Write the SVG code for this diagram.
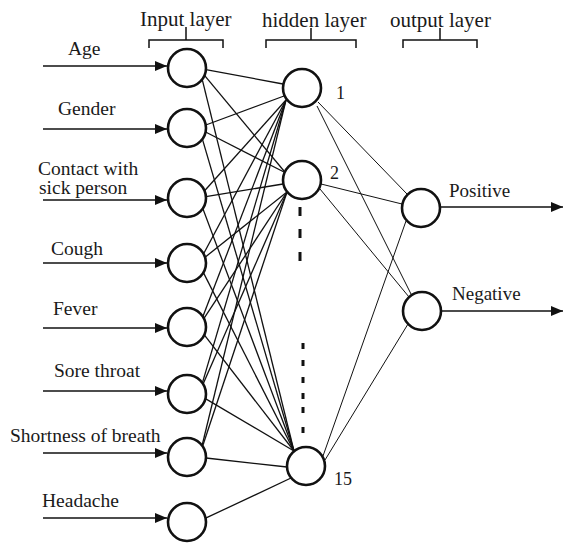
<svg xmlns="http://www.w3.org/2000/svg" width="564" height="544" viewBox="0 0 564 544">
  <style>
    text { font-family: "Liberation Serif", "Times New Roman", serif; fill: #1a1a1a; }
    .hdr { font-size: 21px; }
    .lbl { font-size: 19.5px; }
    .out { font-size: 19px; }
    .num { font-size: 18px; }
    .node { fill: #fff; stroke: #111; stroke-width: 2.6; }
    .w { stroke: #111; stroke-width: 1.3; fill: none; }
    .w2 { stroke: #111; stroke-width: 1; fill: none; }
    .arr { stroke: #111; stroke-width: 1.5; fill: none; marker-end: url(#tip); }
    .br { stroke: #111; stroke-width: 1.5; fill: none; }
    .dash { stroke: #111; stroke-width: 3; fill: none; }
  </style>
  <defs>
    <marker id="tip" markerUnits="userSpaceOnUse" markerWidth="13" markerHeight="11" refX="12" refY="5" orient="auto">
      <path d="M0,0 L12,5 L0,10 Z" fill="#111"/>
    </marker>
  </defs>

  <rect width="564" height="544" fill="#fff"/>

  <!-- layer headings with brackets -->
  <g id="headings">
    <text class="hdr" x="140" y="26">Input layer</text>
    <text class="hdr" x="262" y="27">hidden layer</text>
    <text class="hdr" x="390" y="27">output layer</text>
    <path class="br" d="M149,48 V40 H223 V48 M186,40 V27"/>
    <path class="br" d="M266,48 V40 H356 V48 M311,40 V28"/>
    <path class="br" d="M403,48 V40 H477 V48 M440,40 V28"/>
  </g>

  <!-- weights and input/output arrows -->
  <g id="connectors">
    <!-- inputs to hidden 1 -->
    <line class="w" x1="205.9" y1="69.6" x2="283" y2="84"/>
    <line class="w" x1="205.8" y1="125" x2="284" y2="96"/>
    <line class="w" x1="204.6" y1="190.8" x2="286" y2="100"/>
    <line class="w" x1="203.6" y1="253.7" x2="286" y2="100"/>
    <line class="w" x1="202.9" y1="316.6" x2="286" y2="100"/>
    <line class="w" x1="202.4" y1="382.9" x2="286" y2="100"/>
    <line class="w" x1="202.1" y1="445.5" x2="286" y2="100"/>
    <!-- inputs to hidden 2 -->
    <line class="w" x1="204.5" y1="75.4" x2="284" y2="171"/>
    <line class="w" x1="205.6" y1="132" x2="284" y2="172"/>
    <line class="w" x1="205.9" y1="196.6" x2="283" y2="184"/>
    <line class="w" x1="205.1" y1="257.2" x2="287" y2="192"/>
    <line class="w" x1="204" y1="318.4" x2="287" y2="192"/>
    <line class="w" x1="203.1" y1="384" x2="287" y2="192"/>
    <line class="w" x1="202.6" y1="446.2" x2="287" y2="192"/>
    <!-- inputs to hidden 15 -->
    <line class="w" x1="202.2" y1="79.4" x2="294" y2="451"/>
    <line class="w" x1="202.4" y1="139.1" x2="294" y2="451"/>
    <line class="w" x1="202.8" y1="208.5" x2="294" y2="451"/>
    <line class="w" x1="203.4" y1="272.6" x2="294" y2="451"/>
    <line class="w" x1="204.3" y1="334.9" x2="294" y2="451"/>
    <line class="w" x1="205.4" y1="398.6" x2="294" y2="451"/>
    <line class="w" x1="206" y1="458" x2="287" y2="467"/>
    <line class="w" x1="205.6" y1="518.2" x2="291" y2="478"/>
    <!-- hidden to outputs -->
    <line class="w2" x1="318" y1="102" x2="407" y2="194"/>
    <line class="w2" x1="317" y1="106" x2="411" y2="294"/>
    <line class="w2" x1="321" y1="184" x2="402" y2="204"/>
    <line class="w2" x1="320" y1="189" x2="409" y2="297"/>
    <line class="w2" x1="323" y1="456" x2="406" y2="221"/>
    <line class="w2" x1="325" y1="460" x2="408" y2="324"/>
    <!-- input arrows -->
    <line class="arr" x1="43" y1="66" x2="167" y2="66"/>
    <line class="arr" x1="43" y1="129" x2="167" y2="129"/>
    <line class="arr" x1="43" y1="200" x2="167" y2="200"/>
    <line class="arr" x1="43" y1="263" x2="167" y2="263"/>
    <line class="arr" x1="43" y1="328" x2="167" y2="328"/>
    <line class="arr" x1="43" y1="391" x2="167" y2="391"/>
    <line class="arr" x1="43" y1="453" x2="167" y2="453"/>
    <line class="arr" x1="43" y1="518" x2="167" y2="518"/>
    <!-- output arrows -->
    <line class="arr" x1="441" y1="207" x2="563" y2="207"/>
    <line class="arr" x1="442" y1="311" x2="563" y2="311"/>
  </g>

  <!-- ellipsis marks between hidden units -->
  <g id="ellipsis">
    <path class="dash" d="M300,207 V216 M300,229 V238 M300,252 V261"/>
    <path class="dash" d="M303,343 V349 M303,360 V366 M303,377 V383 M303,393 V399 M303,407 V413 M303,427 V433"/>
  </g>

  <!-- input layer -->
  <g id="in-age"><circle class="node" cx="187" cy="68" r="19"/><text class="lbl" x="68" y="55">Age</text></g>
  <g id="in-gender"><circle class="node" cx="187" cy="128" r="19"/><text class="lbl" x="58" y="115">Gender</text></g>
  <g id="in-contact"><circle class="node" cx="187" cy="198" r="19"/><text class="lbl" x="38" y="175">Contact with</text><text class="lbl" x="39" y="194">sick person</text></g>
  <g id="in-cough"><circle class="node" cx="187" cy="263" r="19"/><text class="lbl" x="51" y="255">Cough</text></g>
  <g id="in-fever"><circle class="node" cx="187" cy="327" r="19"/><text class="lbl" x="53" y="315">Fever</text></g>
  <g id="in-sore-throat"><circle class="node" cx="187" cy="394" r="19"/><text class="lbl" x="54" y="377">Sore throat</text></g>
  <g id="in-shortness"><circle class="node" cx="187" cy="457" r="19"/><text class="lbl" x="10" y="442">Shortness of breath</text></g>
  <g id="in-headache"><circle class="node" cx="187" cy="522" r="19"/><text class="lbl" x="42" y="507">Headache</text></g>

  <!-- hidden layer -->
  <g id="hid-1"><circle class="node" cx="302" cy="88" r="19"/><text class="num" x="336" y="99">1</text></g>
  <g id="hid-2"><circle class="node" cx="302" cy="180" r="19"/><text class="num" x="330" y="179">2</text></g>
  <g id="hid-15"><circle class="node" cx="306" cy="466" r="19"/><text class="num" x="334" y="485">15</text></g>

  <!-- output layer -->
  <g id="out-positive"><circle class="node" cx="421" cy="208" r="19"/><text class="out" x="449" y="197">Positive</text></g>
  <g id="out-negative"><circle class="node" cx="422" cy="311" r="19"/><text class="out" x="452" y="300">Negative</text></g>
</svg>
